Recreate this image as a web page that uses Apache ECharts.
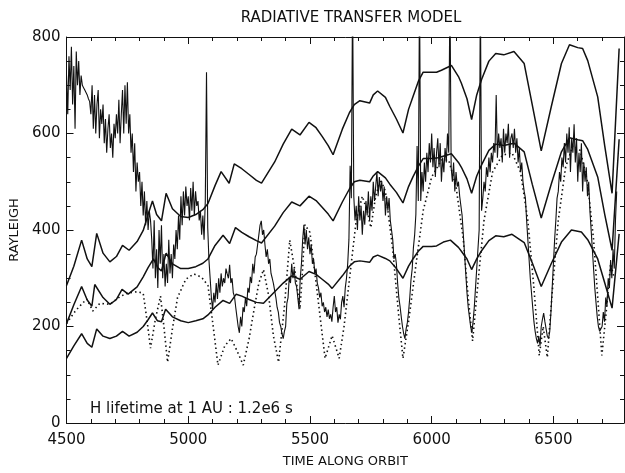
<!DOCTYPE html>
<html>
<head>
<meta charset="utf-8">
<script src="https://cdn.jsdelivr.net/npm/echarts@6/dist/echarts.min.js"></script>
<style>
html,body{margin:0;padding:0;background:#fff;}
#chart{width:625px;height:473px;}
</style>
</head>
<body>
<div id="chart"></div>
<script>
// ---- Data ----
const xTicks = [4500, 5000, 5500, 6000, 6500];
const yTicks = [0, 200, 400, 600, 800];

// Observed (noisy) signal, sampled every 5 orbit-time units from 4500
const observedStart = 4500;
const observedStep = 5;
const observed = [
  720,640,760,690,780,660,740,610,770,700,
  750,680,720,700,695,690,685,680,672,666,
  640,700,610,680,600,660,690,590,650,620,
  660,580,630,560,610,640,570,600,550,620,
  590,640,600,670,580,640,690,600,700,620,
  706,600,640,560,600,520,580,480,540,500,
  520,450,500,430,480,410,460,400,440,420,
  380,320,420,300,360,280,400,330,410,300,
  350,283,330,290,380,310,350,300,370,340,
  400,360,430,380,470,410,480,430,490,450,
  470,420,487,440,500,430,480,450,460,420,
  440,390,430,380,460,727,405,338,300,260,
  236,270,250,290,257,300,270,310,283,300,
  290,320,309,300,328,290,300,270,262,240,
  220,200,187,220,200,240,230,260,242,280,
  270,303,290,330,310,344,350,370,390,410,
  419,390,400,370,344,360,330,340,310,300,
  289,290,260,240,230,208,200,185,175,190,
  200,248,260,303,290,330,300,320,290,283,
  260,236,300,330,380,411,370,400,360,385,
  350,370,330,340,309,320,290,280,260,270,
  242,250,230,240,220,235,216,225,210,240,
  263,230,240,208,225,215,250,263,240,280,
  300,330,380,533,466,900,470,420,450,400,
  470,420,450,390,440,411,460,430,480,420,
  470,440,500,460,490,520,470,510,480,500,
  460,490,430,470,440,466,420,400,380,340,
  350,330,290,260,242,220,200,185,175,195,
  208,230,260,297,320,364,390,432,574,460,
  900,460,520,480,540,500,560,520,580,540,
  600,530,570,510,560,590,530,580,500,550,
  520,570,540,600,560,900,530,500,540,480,
  520,490,500,470,466,430,390,350,310,270,
  240,220,200,187,210,240,280,320,360,400,
  900,440,466,500,480,530,510,550,520,560,
  540,580,560,680,550,600,570,590,540,610,
  560,600,580,620,550,590,600,570,610,560,
  590,540,570,520,540,500,480,466,420,380,
  340,300,270,240,210,190,175,165,180,160,
  200,215,228,210,195,180,175,190,230,280,
  330,380,420,466,480,520,500,550,530,580,
  540,600,560,613,520,590,560,619,540,590,
  500,560,520,580,480,540,500,530,470,500,
  440,400,360,320,280,250,220,200,190,187,
  200,230,210,260,242,300,280,338,300,360,
  320,420,480
];

// Upper model curve
const modelHigh = [
  [4500,285],[4530,325],[4562,379],[4585,340],[4604,324],[4624,393],[4650,352],[4678,334],
  [4705,345],[4730,368],[4757,358],[4790,376],[4815,399],[4835,432],[4853,460],[4870,432],
  [4890,419],[4909,476],[4935,444],[4969,428],[5000,426],[5031,432],[5060,442],[5081,455],
  [5110,492],[5135,521],[5168,497],[5189,537],[5220,527],[5250,515],[5280,503],[5301,497],
  [5355,541],[5390,578],[5425,609],[5459,597],[5496,623],[5525,612],[5550,594],[5575,575],
  [5595,556],[5633,609],[5662,643],[5682,660],[5705,668],[5745,663],[5760,680],[5778,688],
  [5810,675],[5828,656],[5855,630],[5882,601],[5905,650],[5923,676],[5945,708],[5965,727],
  [6000,727],[6020,727],[6040,731],[6081,741],[6110,718],[6122,704],[6145,672],[6164,629],
  [6185,680],[6205,712],[6235,750],[6263,766],[6296,763],[6338,770],[6380,745],[6413,660],
  [6450,564],[6491,655],[6533,745],[6566,784],[6600,778],[6620,776],[6641,751],[6682,676],
  [6711,574],[6741,476],[6770,776]
];

// Middle model curve
const modelMid = [
  [4500,206],[4530,245],[4562,283],[4585,255],[4604,242],[4616,287],[4650,260],[4678,246],
  [4705,256],[4728,277],[4753,267],[4790,282],[4815,303],[4835,322],[4857,340],[4875,322],
  [4890,315],[4909,352],[4935,330],[4969,320],[5000,320],[5031,324],[5060,331],[5081,340],
  [5110,368],[5143,389],[5170,372],[5194,405],[5220,395],[5250,386],[5280,378],[5301,373],
  [5355,408],[5390,436],[5425,458],[5459,450],[5496,470],[5525,461],[5550,447],[5575,433],
  [5595,419],[5633,458],[5662,485],[5682,500],[5705,503],[5745,500],[5760,512],[5778,521],
  [5810,508],[5828,495],[5855,478],[5882,456],[5905,490],[5923,510],[5945,532],[5965,548],
  [6000,548],[6020,549],[6040,552],[6081,558],[6110,540],[6122,530],[6145,506],[6164,476],
  [6185,512],[6205,535],[6235,565],[6263,578],[6296,575],[6338,580],[6380,562],[6413,495],
  [6450,425],[6491,495],[6533,562],[6566,591],[6600,587],[6620,585],[6641,567],[6682,510],
  [6711,432],[6741,358],[6770,588]
];

// Lower model curve
const modelLow = [
  [4500,134],[4530,160],[4562,185],[4585,165],[4604,157],[4624,195],[4650,180],[4678,175],
  [4705,180],[4730,190],[4757,180],[4790,188],[4815,200],[4835,214],[4853,228],[4873,212],
  [4890,210],[4907,236],[4935,220],[4969,212],[5000,208],[5031,212],[5060,216],[5081,224],
  [5110,240],[5143,254],[5170,248],[5197,267],[5220,263],[5250,256],[5280,250],[5309,248],
  [5355,272],[5390,290],[5425,305],[5459,298],[5496,314],[5525,308],[5550,298],[5575,288],
  [5591,279],[5633,305],[5662,325],[5682,334],[5705,336],[5745,333],[5760,344],[5778,348],
  [5810,341],[5828,336],[5855,320],[5882,300],[5905,325],[5923,340],[5945,356],[5965,366],
  [6000,366],[6020,367],[6048,375],[6077,379],[6110,364],[6122,356],[6145,340],[6164,318],
  [6185,340],[6205,357],[6235,378],[6263,388],[6296,386],[6330,391],[6380,374],[6413,332],
  [6450,283],[6491,330],[6533,375],[6574,400],[6615,396],[6641,380],[6682,340],[6711,290],
  [6741,238],[6770,392]
];

// Dotted model curve
const modelDotted = [
  [4500,206],[4530,228],[4550,240],[4583,257],[4608,232],[4637,248],[4678,246],[4720,262],
  [4749,269],[4790,272],[4815,269],[4830,215],[4845,155],[4865,215],[4886,263],[4900,200],
  [4915,126],[4935,195],[4956,260],[4990,298],[5023,309],[5055,302],[5081,285],[5100,210],
  [5122,120],[5150,160],[5176,175],[5200,150],[5226,120],[5250,175],[5272,240],[5290,290],
  [5309,318],[5330,265],[5350,180],[5371,126],[5395,240],[5417,379],[5440,310],[5459,236],
  [5470,320],[5479,411],[5500,395],[5530,270],[5562,134],[5591,181],[5620,134],[5640,200],
  [5662,297],[5690,420],[5715,470],[5735,440],[5750,405],[5770,470],[5790,505],[5810,480],
  [5840,360],[5865,220],[5882,134],[5905,210],[5936,330],[5965,440],[6000,510],[6040,545],
  [6070,545],[6100,490],[6130,380],[6150,260],[6168,170],[6190,290],[6215,420],[6250,520],
  [6290,555],[6330,560],[6365,520],[6395,420],[6420,280],[6442,140],[6458,200],[6475,136],
  [6495,270],[6520,420],[6550,530],[6580,575],[6610,565],[6640,500],[6665,380],[6685,240],
  [6699,140],[6715,220],[6735,330],[6750,300]
];

const titleText = 'RADIATIVE TRANSFER MODEL';
const xName = 'TIME ALONG ORBIT';
const yName = 'RAYLEIGH';
const note = 'H lifetime at 1 AU : 1.2e6 s';

// ---- Build chart ----
const observedPairs = observed.map((v, i) => [observedStart + i * observedStep, v]);
const FONT = 'DejaVu Sans';
const INK = '#111';

function xAx(pos, labels) {
  return {
    type: 'value', position: pos, min: xTicks[0], max: 6790, interval: 500,
    axisLine: {show: true, onZero: false, lineStyle: {color: INK, width: 1}},
    axisTick: {show: true, inside: true, length: 7, lineStyle: {color: INK}},
    minorTick: {show: true, splitNumber: 5, length: 4, lineStyle: {color: INK}},
    splitLine: {show: false},
    axisLabel: {show: labels, showMaxLabel: false, color: INK, fontFamily: FONT, fontSize: 15, margin: 10,
      formatter: v => xTicks.indexOf(v) >= 0 ? String(v) : ''},
    name: labels ? xName : '', nameLocation: 'middle', nameGap: 32,
    nameTextStyle: {color: INK, fontFamily: FONT, fontSize: 13}
  };
}
function yAx(pos, labels) {
  return {
    type: 'value', position: pos, min: 0, max: 800, interval: 200,
    axisLine: {show: true, onZero: false, lineStyle: {color: INK, width: 1}},
    axisTick: {show: true, inside: true, length: 7, lineStyle: {color: INK}},
    minorTick: {show: true, splitNumber: 4, length: 4, lineStyle: {color: INK}},
    splitLine: {show: false},
    axisLabel: {show: labels, color: INK, fontFamily: FONT, fontSize: 15, margin: 6,
      formatter: v => yTicks.indexOf(v) >= 0 ? String(v) : ''},
    name: labels ? yName : '', nameLocation: 'middle', nameGap: 32, nameRotate: 90,
    nameTextStyle: {color: INK, fontFamily: FONT, fontSize: 13}
  };
}

const lineSeries = (data, width, type) => ({
  type: 'line', data: data, xAxisIndex: 0, yAxisIndex: 0,
  showSymbol: false, symbol: 'none', smooth: false, clip: true,
  lineStyle: {color: INK, width: width, type: type || 'solid'}
});

const chart = echarts.init(document.getElementById('chart'));
chart.setOption({
  animation: false,
  backgroundColor: '#fff',
  title: {text: titleText, left: 346, textAlign: 'center', top: 6,
    textStyle: {color: INK, fontFamily: FONT, fontSize: 15, fontWeight: 'normal'}},
  grid: {left: 65, right: 1, top: 37, bottom: 41},
  xAxis: [xAx('bottom', true), xAx('top', false)],
  yAxis: [yAx('left', true), yAx('right', false)],
  graphic: [{type: 'text', left: 90, top: 402,
    style: {text: note, fill: INK, font: '15px "DejaVu Sans"'}}],
  series: [
    lineSeries(modelDotted, 1.6, [1.5, 3]),
    lineSeries(modelLow, 1.5),
    lineSeries(modelMid, 1.5),
    lineSeries(modelHigh, 1.5),
    lineSeries(observedPairs, 1.1)
  ]
});
</script>
</body>
</html>
